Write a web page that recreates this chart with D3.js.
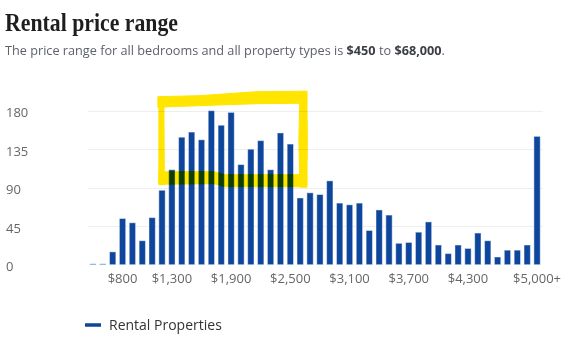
<!DOCTYPE html>
<html>
<head>
<meta charset="utf-8">
<script src="https://cdn.jsdelivr.net/npm/d3@7"></script>
<style>
  html, body { margin: 0; padding: 0; background: #fff; }
  svg { display: block; }
</style>
</head>
<body>
<div id="chart"></div>
<script>
const categories = ["$500","$600","$700","$800","$900","$1,000","$1,100","$1,200","$1,300","$1,400",
  "$1,500","$1,600","$1,700","$1,800","$1,900","$2,000","$2,100","$2,200","$2,300","$2,400",
  "$2,500","$2,600","$2,700","$2,800","$2,900","$3,000","$3,100","$3,200","$3,300","$3,400",
  "$3,500","$3,600","$3,700","$3,800","$3,900","$4,000","$4,100","$4,200","$4,300","$4,400",
  "$4,500","$4,600","$4,700","$4,800","$4,900","$5,000+"];
const rentalProperties = [1,1,15,54,49,28,55,87,111,149,
  155,146,180,163,178,117,135,145,111,154,
  141,78,84,82,98,72,70,72,40,64,
  58,25,26,38,50,23,13,23,19,37,
  28,9,17,17,23,150];
const xTickLabels = ["$800","$1,300","$1,900","$2,500","$3,100","$3,700","$4,300","$5,000+"];
const yTicks = [0,45,90,135,180];
const seriesName = "Rental Properties";
const highlightFrom = "$1,200", highlightTo = "$2,600";

const W = 578, H = 342;
const barColor = "#0d469c";
const svg = d3.select("#chart").append("svg").attr("width", W).attr("height", H);

// Title & subtitle
svg.append("text").attr("x", 5).attr("y", 31)
  .attr("textLength", 173).attr("lengthAdjust", "spacingAndGlyphs")
  .style("font-family", "'Liberation Serif', 'DejaVu Serif', serif")
  .style("font-weight", "700").style("font-size", "25px").style("fill", "#1e1e1e")
  .text("Rental price range");
const sub = svg.append("text").attr("x", 5).attr("y", 55)
  .style("font-family", "'Open Sans', sans-serif").style("font-size", "12.7px").style("fill", "#5d6168");
sub.append("tspan").text("The price range for all bedrooms and all property types is ");
sub.append("tspan").style("font-weight", "700").style("fill", "#3b3f45").text("$450");
sub.append("tspan").text(" to ");
sub.append("tspan").style("font-weight", "700").style("fill", "#3b3f45").text("$68,000");
sub.append("tspan").text(".");

// Scales
const x = d3.scaleBand().domain(categories).range([88, 542]).paddingInner(0.36).paddingOuter(0.18);
const y = d3.scaleLinear().domain([0, 180]).range([264.7, 110.7]);

// Gridlines
svg.append("g").selectAll("line").data(yTicks.filter(d => d > 0)).join("line")
  .attr("x1", 88).attr("x2", 543)
  .attr("y1", d => Math.round(y(d)) + 0.5).attr("y2", d => Math.round(y(d)) + 0.5)
  .attr("stroke", "#eeeeee").attr("stroke-width", 1);

// Y labels (left aligned)
svg.append("g").selectAll("text").data(yTicks).join("text")
  .attr("x", 6).attr("y", d => y(d) + 6.5)
  .style("font-family", "'Open Sans', sans-serif").style("font-size", "13px").style("fill", "#666")
  .text(d => d);

// Bars
svg.append("g").selectAll("rect").data(categories).join("rect")
  .attr("x", d => x(d)).attr("width", x.bandwidth())
  .attr("y", (d, i) => y(rentalProperties[i]))
  .attr("height", (d, i) => y(0) - y(rentalProperties[i]))
  .attr("fill", barColor)
  .attr("stroke", "rgba(255,255,255,0.45)").attr("stroke-width", 1);

// X labels
svg.append("g").selectAll("text").data(xTickLabels).join("text")
  .attr("x", d => x(d) + x.bandwidth() / 2).attr("y", 282.5)
  .attr("text-anchor", "middle")
  .style("font-family", "'Open Sans', sans-serif").style("font-size", "13px").style("fill", "#666")
  .text(d => d);

// Legend
svg.append("line").attr("x1", 85).attr("x2", 101).attr("y1", 325).attr("y2", 325)
  .attr("stroke", barColor).attr("stroke-width", 3.5);
svg.append("text").attr("x", 109).attr("y", 329.5)
  .style("font-family", "'Open Sans', sans-serif").style("font-size", "14px").style("fill", "#333")
  .text(seriesName);

// Hand-drawn highlighter annotation
const xL = x(highlightFrom), xR1 = x(highlightTo) + x.bandwidth() + 3.5, xR0 = xR1 - 7;
const yT = y(180), yB = y(0);
const hl = svg.append("g").style("mix-blend-mode", "multiply");
const polys = [
  [[xL-1, yT-14], [xL+40, yT-15], [xR1-50, yT-19], [xR1, yT-19.5], [xR1, yT-7.5], [xR1-50, yT-7], [xL+40, yT-5], [xL-1, yT-3.5]],
  [[xL, yT-12], [xL+5, yT-12], [xL+5.5, yB-80], [xL, yB-80]],
  [[xR0, yT-19], [xR1, yT-19], [xR1+0.5, yT+30], [xR1, yB-77.5], [xR0, yB-77.5], [xR0-1, yT+30]],
  [[xL, yB-93], [xL+55, yB-93], [xL+66, yB-90], [xR1, yB-90], [xR1, yB-78], [xL+66, yB-78], [xL+55, yB-81], [xL, yB-80.5]]
];
hl.selectAll("path").data(polys).join("path")
  .attr("d", p => "M" + p.map(q => q.join(",")).join("L") + "Z")
  .attr("fill", "#ffe500").attr("stroke", "#ffe500").attr("stroke-width", 1).attr("stroke-linejoin", "round");
</script>
</body>
</html>
